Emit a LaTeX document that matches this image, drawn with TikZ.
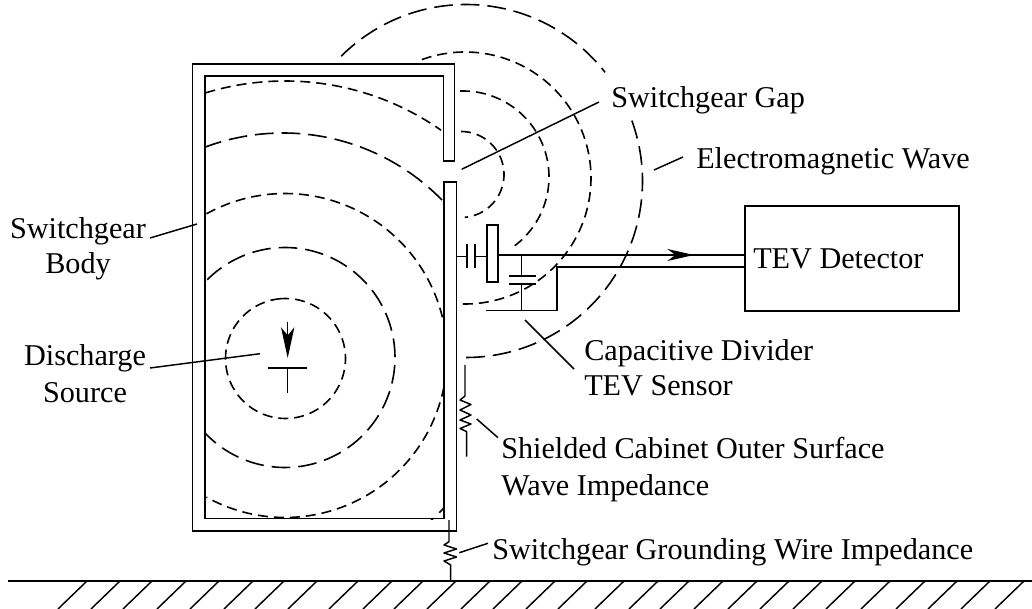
\documentclass[tikz,border=0pt]{standalone}
\usepackage{fontspec}
\setmainfont{Liberation Serif}
\usetikzlibrary{arrows.meta}
\tikzset{
  x=0.75pt,y=-0.75pt,
  wall/.style={line width=1.35pt,line join=miter},
  wire/.style={line width=1.35pt},
  thinwire/.style={line width=1.1pt},
  leader/.style={line width=1.1pt},
  hatchline/.style={line width=1.1pt},
  waveS/.style={line width=1.2pt,dash pattern=on 7.5pt off 4.5pt},
  waveL/.style={line width=1.2pt,dash pattern=on 14pt off 6pt},
  lab/.style={anchor=base west,inner sep=0pt,yshift=-0.75pt,font=\fontsize{22.65}{27}\selectfont},
  labc/.style={anchor=base,inner sep=0pt,yshift=-0.75pt,font=\fontsize{22.65}{27}\selectfont},
}
\newcommand{\wavearc}[6]{\draw[#1] plot[smooth,domain=#5:#6,samples=90] ({#2+#4*cos(\x)},{#3-#4*sin(\x)});}
\begin{document}
\begin{tikzpicture}
\useasboundingbox (0,0) rectangle (1032,609);
\fill[white] (0,0) rectangle (1032,609);
% waves inside the cabinet
\begin{scope}
\clip (205,76) rectangle (444,519);
\wavearc{waveS}{285.5}{358.5}{60}{95}{455}
\wavearc{waveL}{285}{357.5}{110}{135}{-225}
\wavearc{waveS}{285}{355.5}{162}{119}{-119}
\wavearc{waveL}{283}{355}{222}{111}{-60}
\wavearc{waveS}{285}{353}{272}{107}{55}
\end{scope}
% waves outside the cabinet
\wavearc{waveS}{461}{174.5}{43}{90}{-85}
\wavearc{waveS}{463}{177}{86}{92}{-53}
\wavearc{waveS}{465}{178}{126}{110}{-91}
\wavearc{waveL}{466}{181}{176.5}{135}{38}
\wavearc{waveL}{466}{181}{176.5}{20}{-92}
% cabinet
\draw[wall] (192.5,64) -- (454.5,64) -- (454.5,161) -- (443.5,161) -- (443.5,76) -- (205,76) -- (205,518.5) -- (444,518.5) -- (444,182) -- (456.5,182) -- (456.5,531) -- (192.5,531) -- cycle;
% ground
\coordinate (gl) at (8,581); \coordinate (gr) at (1032,581);
\draw[wall] (gl) -- (gr);
\foreach \h in {87,120,152,186,219,253,284,317,358,392,423,456,490,522,555,587,624,658,689,723,757,789,822,855,890,925,957,990,1024}
  \draw[hatchline] (\h,581) -- ++(-29,28);
% discharge source
\coordinate (arrS) at (287.7,322);
\coordinate (arrT) at (287.7,358);
\draw[thinwire,-{Stealth[length=23pt,width=10pt,inset=6pt]}] (arrS) -- (arrT);
\coordinate (tL) at (268,368); \coordinate (tR) at (306.7,368);
\coordinate (tM) at (287.7,368); \coordinate (tB) at (287.7,393);
\draw[wire] (tL) -- (tR);
\draw[thinwire] (tM) -- (tB);
% TEV detector
\node[draw,line width=1.25pt,minimum width=214*0.75pt,minimum height=105*0.75pt,inner sep=0pt,anchor=north west] (det) at (744,205) {};
\node[lab] (detT) at (753,268) {TEV Detector};
% sensor
\coordinate (w0) at (456.5,256.7); \coordinate (c1) at (466.7,256.7); \coordinate (c2) at (475,256.7);
\draw[thinwire] (w0) -- (c1);
\draw[wire] (466.7,244) -- (466.7,268);
\draw[wire] (475,244) -- (475,268);
\node[draw,line width=1.25pt,anchor=north west,minimum width=11.3*0.75pt,minimum height=56.7*0.75pt,inner sep=0pt] (plate) at (486,224.3) {};
\draw[thinwire] (c2) -- (486,256.7);
\coordinate (sigA) at (497.3,255);
\coordinate (sigB) at (744,255);
\draw[wire] (sigA) -- (sigB);
\coordinate (arrowB) at (668,255); \coordinate (arrowT) at (694,255);
\draw[thinwire,-{Stealth[length=20pt,width=9pt,inset=6pt]}] (arrowB) -- (arrowT);
\coordinate (retA) at (744,266.7); \coordinate (retB) at (556.7,266.7); \coordinate (retC) at (556.7,310.5); \coordinate (retD) at (485.7,310.5);
\draw[wire] (retA) -- (retB) -- (retC) -- (retD);
\coordinate (dv0) at (521.3,255); \coordinate (dv1) at (521.3,276); \coordinate (dv2) at (521.3,284); \coordinate (dv3) at (521.3,310.5);
\draw[thinwire] (dv0) -- (dv1); \draw[thinwire] (dv2) -- (dv3);
\draw[wire] (508.7,276) -- (535.7,276);
\draw[wire] (508.7,284) -- (535.7,284);
% surface impedance
\draw[thinwire,line join=round] (465,365) -- (465,396) -- (460,400) -- (471,404.5) -- (460,410) -- (471,415) -- (460,420) -- (471,424) -- (460,428.5) -- (466.7,431.7) -- (466.7,456.7);
% grounding impedance
\draw[thinwire,line join=round] (449,520) -- (449,541.7) -- (444,545) -- (456.5,549) -- (444,553) -- (456.5,557) -- (444,561) -- (450.7,565) -- (450.7,581);
% labels
\node[lab] (gap) at (611,107) {Switchgear Gap};
\node[lab] (em) at (696,168) {Electromagnetic Wave};
\node[labc] (body1) at (78,238) {Switchgear};
\node[labc] (body2) at (78,273) {Body};
\node[labc] (src1) at (85,365) {Discharge};
\node[labc] (src2) at (85,402) {Source};
\node[lab] (cap1) at (584,360) {Capacitive Divider};
\node[lab] (cap2) at (584,395) {TEV Sensor};
\node[lab] (sh1) at (501,458) {Shielded Cabinet Outer Surface};
\node[lab] (sh2) at (501,495) {Wave Impedance};
\node[lab] (gnd) at (492,558) {Switchgear Grounding Wire Impedance};
% leaders
\coordinate (l1a) at (461.7,169.3); \coordinate (l1b) at (599,102);
\draw[leader] (l1a) -- (l1b);
\coordinate (l2a) at (654,170); \coordinate (l2b) at (683,157);
\draw[leader] (l2a) -- (l2b);
\coordinate (l3a) at (150,238); \coordinate (l3b) at (197,224);
\draw[leader] (l3a) -- (l3b);
\coordinate (l4a) at (150,368); \coordinate (l4b) at (260,353.7);
\draw[leader] (l4a) -- (l4b);
\coordinate (l5a) at (525,320); \coordinate (l5b) at (574,369);
\draw[leader] (l5a) -- (l5b);
\coordinate (l6a) at (476.7,419); \coordinate (l6b) at (498,437.7);
\draw[leader] (l6a) -- (l6b);
\coordinate (l7a) at (459.3,552.7); \coordinate (l7b) at (488,543.3);
\draw[leader] (l7a) -- (l7b);
\end{tikzpicture}
\end{document}
